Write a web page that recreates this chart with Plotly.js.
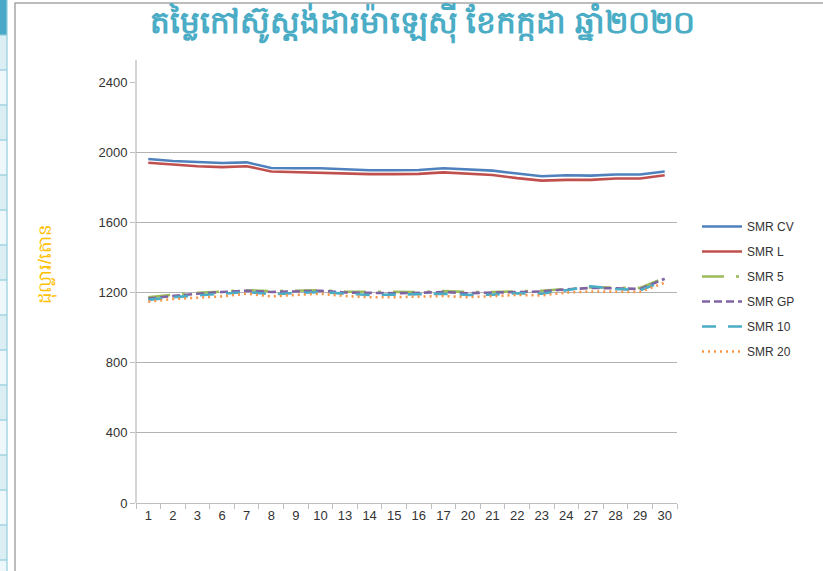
<!DOCTYPE html>
<html>
<head>
<meta charset="utf-8">
<script src="https://cdn.plot.ly/plotly-3.0.1.min.js"></script>
<style>
html,body{margin:0;padding:0;background:#fff;}
#chart{width:823px;height:571px;}
</style>
</head>
<body>
<div id="chart"></div>
<script>
const days = ["1","2","3","6","7","8","9","10","13","14","15","16","17","20","21","22","23","24","27","28","29","30"];
const smrCV = [1961,1950,1944,1938,1942,1910,1908,1908,1903,1897,1897,1898,1908,1902,1895,1878,1863,1868,1866,1873,1873,1890];
const smrL  = [1940,1928,1920,1915,1920,1890,1886,1886,1882,1875,1875,1876,1885,1878,1870,1852,1838,1842,1842,1850,1850,1868];
const smr5  = [1172,1188,1198,1206,1213,1208,1210,1213,1205,1203,1203,1203,1208,1203,1203,1208,1210,1220,1230,1228,1226,1283];
const smrGP = [1166,1180,1193,1203,1210,1203,1206,1210,1200,1196,1196,1198,1203,1196,1198,1203,1206,1218,1226,1224,1220,1278];
const smr10 = [1158,1173,1183,1193,1203,1190,1198,1203,1193,1186,1188,1190,1193,1186,1188,1196,1193,1213,1236,1220,1213,1266];
const smr20 = [1148,1163,1170,1178,1193,1178,1186,1193,1180,1173,1173,1176,1180,1173,1178,1186,1183,1200,1206,1206,1203,1256];
const yTicks = [0,400,800,1200,1600,2000,2400];

const seriesNames = ["SMR CV","SMR L","SMR 5","SMR GP","SMR 10","SMR 20"];
const seriesData = [smrCV, smrL, smr5, smrGP, smr10, smr20];
const colors = ["#4f81bd","#c0504d","#9bbb59","#8064a2","#4bacc6","#f79646"];
const dashes = ["solid","solid","22px,12px,3px,12px","8px,4px","14px,12px","2px,4px"];

const traces = seriesNames.map((n,i)=>({
  type:"scatter", mode:"lines", name:n, x:days, y:seriesData[i], legendgroup:"g"+i,
  line:{color:colors[i], width:2.6, dash:dashes[i]}
}));

// pixel helpers (plot area: x 136..677, y 82..503)
const L=136, R=677, T=82, B=503;
const px = v => (v-L)/(R-L);
const py = v => (B-v)/(B-T);

const shapes = [];
shapes.push({type:"rect", xref:"paper", yref:"paper", x0:px(15), x1:px(840), y0:py(3), y1:py(600), line:{color:"#a6a6a6", width:1.5}, fillcolor:"rgba(0,0,0,0)", layer:"below"});
shapes.push({type:"rect", xref:"paper", yref:"paper", x0:px(-2), x1:px(7), y0:py(0), y1:py(575), line:{width:0}, fillcolor:"#ffffff", layer:"below"});
shapes.push({type:"rect", xref:"paper", yref:"paper", x0:px(-2), x1:px(7), y0:py(-2), y1:py(35), line:{width:0}, fillcolor:"#4aa8c8", layer:"below"});
for(let k=0;k<16;k++){
  const y0=35+k*35, y1=y0+35;
  shapes.push({type:"rect", xref:"paper", yref:"paper", x0:px(-2), x1:px(7), y0:py(y0), y1:py(y1), line:{width:0}, fillcolor:(k%2===0)?"#dbeef4":"#eef7fa", layer:"below"});
  shapes.push({type:"line", xref:"paper", yref:"paper", x0:px(-2), x1:px(7), y0:py(y0), y1:py(y0), line:{color:"#92cddc", width:1.2}, layer:"below"});
}
shapes.push({type:"line", xref:"paper", yref:"paper", x0:px(7), x1:px(7), y0:py(0), y1:py(575), line:{color:"#92cddc", width:1.2}, layer:"below"});
shapes.push({type:"line", xref:"paper", yref:"paper", x0:0, x1:0, y0:0, y1:py(60), line:{color:"#bfbfbf", width:1.3}, layer:"below"});

const layout = {
  width:823, height:571,
  margin:{l:L, r:823-R, t:T, b:571-B, pad:0},
  paper_bgcolor:"#ffffff", plot_bgcolor:"rgba(0,0,0,0)",
  font:{family:"Liberation Sans, Arial, sans-serif", color:"#333333", size:13},
  title:{text:"<b>តម្លៃកៅស៊ូស្តង់ដារម៉ាឡេស៊ី ខែកក្កដា ឆ្នាំ២០២០</b>", x:0.513, xanchor:"center", y:0.962, yanchor:"middle", font:{size:31, color:"#4bacc6"}},
  xaxis:{type:"category", range:[-0.5,21.5], tickson:"boundaries", ticks:"outside", ticklen:5, tickcolor:"#bfbfbf",
    showline:true, linecolor:"#bfbfbf", linewidth:1.3, showgrid:false, zeroline:false, fixedrange:true,
    tickfont:{size:13, color:"#333333"}},
  yaxis:{range:[0,2400], tickvals:yTicks, ticktext:yTicks.map(String), ticks:"outside", ticklen:5, tickcolor:"#bfbfbf",
    showline:false, showgrid:true, gridcolor:"#b3b3b3", gridwidth:1, zeroline:false, fixedrange:true,
    tickfont:{size:13, color:"#333333"}},
  annotations:[{text:"ដុល្លារ/តោន", xref:"paper", yref:"paper", x:px(46), y:py(265), textangle:-90, showarrow:false,
    xanchor:"center", yanchor:"middle", font:{size:18, color:"#ffc000"}}],
  legend:{x:px(697), y:py(212), xanchor:"left", yanchor:"top", font:{size:12, color:"#333333"}, tracegroupgap:6, itemwidth:40, bgcolor:"rgba(0,0,0,0)"},
  showlegend:true,
  shapes:shapes
};

Plotly.newPlot("chart", traces, layout, {displayModeBar:false, staticPlot:true});
</script>
</body>
</html>
